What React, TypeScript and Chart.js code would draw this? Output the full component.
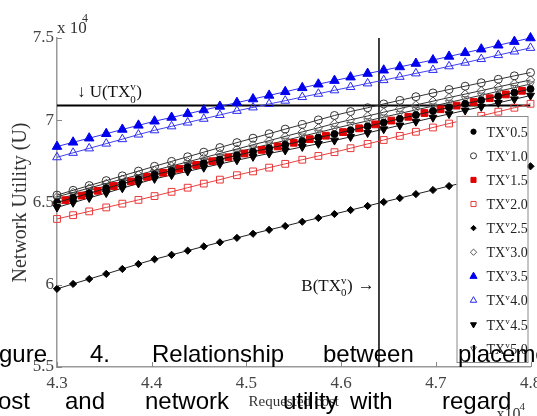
import React, { useEffect, useRef } from "react";
import { Chart, registerables } from "chart.js";
import { drawPoint } from "chart.js/helpers";

Chart.register(...registerables);

// Requested cost (x 10^4)
const COST_X = [4.300, 4.317, 4.334, 4.352, 4.369, 4.386, 4.403, 4.421, 4.438, 4.455, 4.472, 4.490, 4.507, 4.524, 4.541, 4.559, 4.576, 4.593, 4.610, 4.628, 4.645, 4.662, 4.679, 4.697, 4.714, 4.731, 4.748, 4.766, 4.783, 4.800];
const COST_X_SHIFTED = [4.309, 4.326, 4.343, 4.360, 4.378, 4.395, 4.412, 4.429, 4.447, 4.464, 4.481, 4.498, 4.516, 4.533, 4.550, 4.567, 4.584, 4.602, 4.619, 4.636, 4.653, 4.671, 4.688, 4.705, 4.722, 4.740, 4.757, 4.774, 4.791];

// Network utility (x 10^4)
const TX_05 = [6.500, 6.528, 6.556, 6.586, 6.614, 6.642, 6.669, 6.693, 6.716, 6.739, 6.762, 6.787, 6.809, 6.830, 6.851, 6.874, 6.895, 6.916, 6.939, 6.963, 6.986, 7.009, 7.032, 7.056, 7.078, 7.100, 7.122, 7.146, 7.168, 7.190];
const TX_10 = [6.545, 6.574, 6.603, 6.633, 6.662, 6.691, 6.720, 6.750, 6.778, 6.806, 6.834, 6.864, 6.891, 6.918, 6.946, 6.974, 7.002, 7.029, 7.053, 7.076, 7.099, 7.121, 7.143, 7.166, 7.187, 7.207, 7.228, 7.249, 7.270, 7.290];
const TX_15 = [6.514, 6.542, 6.571, 6.600, 6.628, 6.656, 6.681, 6.705, 6.728, 6.751, 6.775, 6.798, 6.820, 6.841, 6.863, 6.885, 6.906, 6.928, 6.951, 6.975, 6.998, 7.021, 7.044, 7.067, 7.089, 7.111, 7.134, 7.157, 7.179];
const TX_20 = [6.400, 6.423, 6.446, 6.470, 6.493, 6.516, 6.539, 6.565, 6.590, 6.615, 6.639, 6.666, 6.689, 6.712, 6.735, 6.760, 6.783, 6.806, 6.830, 6.856, 6.880, 6.905, 6.930, 6.956, 6.980, 7.003, 7.027, 7.052, 7.076, 7.100];
const TX_25 = [5.975, 6.005, 6.035, 6.066, 6.096, 6.126, 6.155, 6.182, 6.207, 6.233, 6.258, 6.285, 6.310, 6.334, 6.357, 6.383, 6.406, 6.430, 6.454, 6.479, 6.503, 6.527, 6.551, 6.576, 6.600, 6.623, 6.647, 6.672, 6.696, 6.720];
const TX_30 = [6.535, 6.561, 6.588, 6.616, 6.642, 6.668, 6.695, 6.722, 6.747, 6.773, 6.798, 6.825, 6.851, 6.876, 6.902, 6.929, 6.954, 6.980, 7.003, 7.026, 7.049, 7.071, 7.093, 7.116, 7.138, 7.159, 7.180, 7.203, 7.224, 7.245];
const TX_35 = [6.840, 6.866, 6.891, 6.918, 6.944, 6.969, 6.994, 7.017, 7.039, 7.062, 7.084, 7.107, 7.129, 7.151, 7.173, 7.197, 7.219, 7.241, 7.262, 7.284, 7.304, 7.324, 7.345, 7.366, 7.388, 7.410, 7.432, 7.456, 7.478, 7.500];
const TX_40 = [6.775, 6.802, 6.829, 6.858, 6.885, 6.913, 6.939, 6.963, 6.986, 7.009, 7.032, 7.057, 7.078, 7.099, 7.119, 7.141, 7.161, 7.182, 7.202, 7.224, 7.244, 7.264, 7.285, 7.306, 7.328, 7.350, 7.372, 7.396, 7.418, 7.440];
const TX_45 = [6.470, 6.499, 6.528, 6.558, 6.587, 6.616, 6.644, 6.667, 6.689, 6.712, 6.734, 6.757, 6.778, 6.798, 6.817, 6.838, 6.857, 6.877, 6.899, 6.923, 6.946, 6.969, 6.992, 7.016, 7.038, 7.060, 7.082, 7.106, 7.128, 7.150];
const TX_50 = [6.520, 6.546, 6.573, 6.601, 6.627, 6.653, 6.679, 6.705, 6.730, 6.755, 6.779, 6.806, 6.830, 6.854, 6.877, 6.903, 6.926, 6.950, 6.973, 6.996, 7.019, 7.041, 7.063, 7.086, 7.108, 7.130, 7.152, 7.176, 7.198, 7.220];

const LEGEND_LABELS = ["0.5", "1.0", "1.5", "2.0", "2.5", "3.0", "3.5", "4.0", "4.5", "5.0"];

// reference levels
const U_TX0 = 7.09; // horizontal line U(TX_0^v)
const B_TX0 = 4.64; // vertical line B(TX_0^v)

const X_MIN = 4.3, X_MAX = 4.8, X_STEP = 0.1;
const Y_MIN = 5.5, Y_MAX = 7.5, Y_STEP = 0.5;

const SERIF = '"Liberation Serif", "DejaVu Serif", serif';
const SANS = '"Liberation Sans", Arial, sans-serif';

type Style = { color: string; line: string; pointStyle: string; filled: boolean; r: number; rot: number };
const STYLES: Style[] = [
  { color: "#000000", line: "#222222", pointStyle: "circle", filled: true, r: 3.5, rot: 0 },
  { color: "#333333", line: "#333333", pointStyle: "circle", filled: false, r: 4, rot: 0 },
  { color: "#e00000", line: "#e03030", pointStyle: "rect", filled: true, r: 4.8, rot: 0 },
  { color: "#e83838", line: "#e84040", pointStyle: "rect", filled: false, r: 4.8, rot: 0 },
  { color: "#000000", line: "#222222", pointStyle: "rectRot", filled: true, r: 3.6, rot: 0 },
  { color: "#555555", line: "#333333", pointStyle: "rectRot", filled: false, r: 4.2, rot: 0 },
  { color: "#0000ee", line: "#3030f0", pointStyle: "triangle", filled: true, r: 5.5, rot: 0 },
  { color: "#2a2af0", line: "#4040f0", pointStyle: "triangle", filled: false, r: 5, rot: 0 },
  { color: "#000000", line: "#222222", pointStyle: "triangle", filled: true, r: 4.6, rot: 180 },
  { color: "#666666", line: "#333333", pointStyle: "triangle", filled: false, r: 4.4, rot: 180 },
];

const SERIES_X = [COST_X, COST_X, COST_X_SHIFTED, COST_X, COST_X, COST_X, COST_X, COST_X, COST_X, COST_X];
const SERIES_Y = [TX_05, TX_10, TX_15, TX_20, TX_25, TX_30, TX_35, TX_40, TX_45, TX_50];

function drawSup(ctx: CanvasRenderingContext2D, base: string, x: number, y: number, size: number, after: string, withSub: boolean) {
  ctx.font = `${size}px ${SERIF}`;
  ctx.fillText(base, x, y);
  let cx = x + ctx.measureText(base).width;
  const small = Math.round(size * 0.65);
  ctx.font = `${small}px ${SERIF}`;
  ctx.fillText("v", cx, y - size * 0.42);
  let w = ctx.measureText("v").width;
  if (withSub) {
    ctx.fillText("0", cx, y + size * 0.32);
    w = Math.max(w, ctx.measureText("0").width);
  }
  cx += w + 0.5;
  ctx.font = `${size}px ${SERIF}`;
  ctx.fillText(after, cx, y);
  return cx + ctx.measureText(after).width;
}

const overlayPlugin = {
  id: "overlay",
  afterDatasetsDraw(chart: any) {
    const { ctx, chartArea } = chart;
    const xs = chart.scales.x, ys = chart.scales.y;
    ctx.save();
    // inward tick marks
    ctx.strokeStyle = "#888";
    ctx.lineWidth = 1;
    xs.ticks.forEach((t: any) => {
      const px = Math.round(xs.getPixelForValue(t.value)) + 0.5;
      ctx.beginPath();
      ctx.moveTo(px, chartArea.bottom);
      ctx.lineTo(px, chartArea.bottom - 5);
      ctx.stroke();
    });
    ys.ticks.forEach((t: any) => {
      const py = Math.round(ys.getPixelForValue(t.value)) + 0.5;
      ctx.beginPath();
      ctx.moveTo(chartArea.left, py);
      ctx.lineTo(chartArea.left + 5, py);
      ctx.stroke();
    });

    // legend
    const lx = chartArea.right - 74, ly = chartArea.top + 78, lw = 71, lh = 246;
    ctx.fillStyle = "#fff";
    ctx.fillRect(lx, ly, lw, lh);
    ctx.strokeStyle = "#8a8a8a";
    ctx.lineWidth = 1;
    ctx.strokeRect(lx + 0.5, ly + 0.5, lw, lh);
    LEGEND_LABELS.forEach((lab, i) => {
      const s = STYLES[i];
      const cy = ly + 15.7 + i * 24.1;
      ctx.fillStyle = s.filled ? s.color : "rgba(0,0,0,0)";
      ctx.strokeStyle = s.color;
      ctx.lineWidth = 1;
      drawPoint(ctx, { pointStyle: s.pointStyle as any, radius: s.r * 0.75, rotation: s.rot, borderWidth: 1 }, lx + 17, cy);
      ctx.fillStyle = "#222";
      ctx.textBaseline = "alphabetic";
      ctx.textAlign = "left";
      drawSup(ctx, "TX", lx + 30, cy + 5, 14, lab, false);
    });
    ctx.restore();
  },
  afterDraw(chart: any) {
    const { ctx, chartArea } = chart;
    const xs = chart.scales.x, ys = chart.scales.y;
    ctx.save();
    ctx.textAlign = "left";
    ctx.textBaseline = "alphabetic";
    ctx.fillStyle = "#111";

    // annotations
    drawSup(ctx, "\u2193 U(TX", xs.getPixelForValue(4.321), ys.getPixelForValue(7.14), 17, ")", true);
    const endB = drawSup(ctx, "B(TX", xs.getPixelForValue(4.558), ys.getPixelForValue(5.964), 17, ")", true);
    ctx.font = `17px ${SERIF}`;
    ctx.fillText("\u2192", endB + 5, ys.getPixelForValue(5.964) - 1);

    // exponent labels
    ctx.fillStyle = "#333";
    ctx.font = `17px ${SERIF}`;
    ctx.fillText("x 10", chartArea.left, chartArea.top - 5);
    ctx.font = `12px ${SERIF}`;
    ctx.fillText("4", chartArea.left + 25, chartArea.top - 16);
    ctx.font = `16px ${SERIF}`;
    ctx.fillText("x10", chartArea.right - 34, chartArea.bottom + 52);
    ctx.font = `11px ${SERIF}`;
    ctx.fillText("4", chartArea.right - 11, chartArea.bottom + 43);

    // caption text of the page overlapping the figure
    ctx.fillStyle = "#000";
    ctx.font = `24px ${SANS}`;
    const line1: [string, number][] = [["gure", -1], ["4.", 90], ["Relationship", 152], ["between", 323], ["placement", 458]];
    const line2: [string, number][] = [["ost", -2], ["and", 65], ["network", 145], ["utility", 283], ["with", 350], ["regard", 442]];
    line1.forEach(([t, x]) => ctx.fillText(t, x, 362));
    line2.forEach(([t, x]) => ctx.fillText(t, x, 409));
    ctx.restore();
  },
};

export default function App() {
  const ref = useRef<HTMLCanvasElement | null>(null);
  useEffect(() => {
    if (!ref.current) return;
    const datasets: any[] = SERIES_Y.map((ysArr, i) => {
      const s = STYLES[i];
      return {
        label: "TXv" + LEGEND_LABELS[i],
        data: ysArr.map((y, j) => ({ x: SERIES_X[i][j], y })),
        borderColor: s.line,
        borderWidth: 1,
        pointStyle: s.pointStyle,
        pointRadius: s.r,
        pointRotation: s.rot,
        pointBackgroundColor: s.filled ? s.color : "rgba(255,255,255,0)",
        pointBorderColor: s.color,
        pointBorderWidth: 1,
        tension: 0,
        clip: false,
      };
    });
    datasets.push({
      label: "U",
      data: [{ x: X_MIN, y: U_TX0 }, { x: X_MAX, y: U_TX0 }],
      borderColor: "#000",
      borderWidth: 2,
      pointRadius: 0,
    });
    datasets.push({
      label: "B",
      data: [{ x: B_TX0, y: Y_MIN }, { x: B_TX0, y: Y_MAX }],
      borderColor: "#000",
      borderWidth: 1.5,
      pointRadius: 0,
    });

    const chart = new Chart(ref.current, {
      type: "line",
      data: { datasets },
      options: {
        animation: false,
        responsive: false,
        devicePixelRatio: 1,
        layout: { padding: { left: 0, top: 38, right: 5, bottom: 0 } },
        plugins: { legend: { display: false }, tooltip: { enabled: false } },
        scales: {
          x: {
            type: "linear",
            min: X_MIN,
            max: X_MAX,
            grid: { display: false, drawTicks: false },
            border: { display: true, color: "#999", width: 1.5 },
            ticks: {
              stepSize: X_STEP,
              color: "#444",
              padding: 6,
              font: { family: SERIF, size: 17 },
              maxRotation: 0,
              callback: (v: any) => Number(v).toFixed(1),
            },
            title: {
              display: true,
              text: "Requested cost",
              color: "#333",
              font: { family: SERIF, size: 15 },
              padding: { top: 0, bottom: 5 },
            },
            afterFit: (s: any) => {
              s.height = 49;
              s.paddingLeft = 0;
              s.paddingRight = 0;
            },
          },
          y: {
            type: "linear",
            min: Y_MIN,
            max: Y_MAX,
            grid: { display: false, drawTicks: false },
            border: { display: true, color: "#999", width: 1.5 },
            ticks: {
              stepSize: Y_STEP,
              color: "#444",
              padding: 3,
              font: { family: SERIF, size: 17 },
              callback: (v: any) => String(Number(Number(v).toFixed(1))),
            },
            title: {
              display: true,
              text: "Network Utility (U)",
              color: "#333",
              font: { family: SERIF, size: 20 },
              padding: { top: 9, bottom: 0 },
            },
            afterFit: (s: any) => {
              s.width = 57;
              s.paddingTop = 0;
              s.paddingBottom = 0;
            },
          },
        },
      },
      plugins: [overlayPlugin],
    } as any);
    return () => chart.destroy();
  }, []);

  return (
    <div style={{ position: "absolute", left: 0, top: 0, width: 537, height: 416, background: "#fff" }}>
      <canvas ref={ref} width={537} height={416} style={{ width: 537, height: 416, display: "block" }} />
    </div>
  );
}
